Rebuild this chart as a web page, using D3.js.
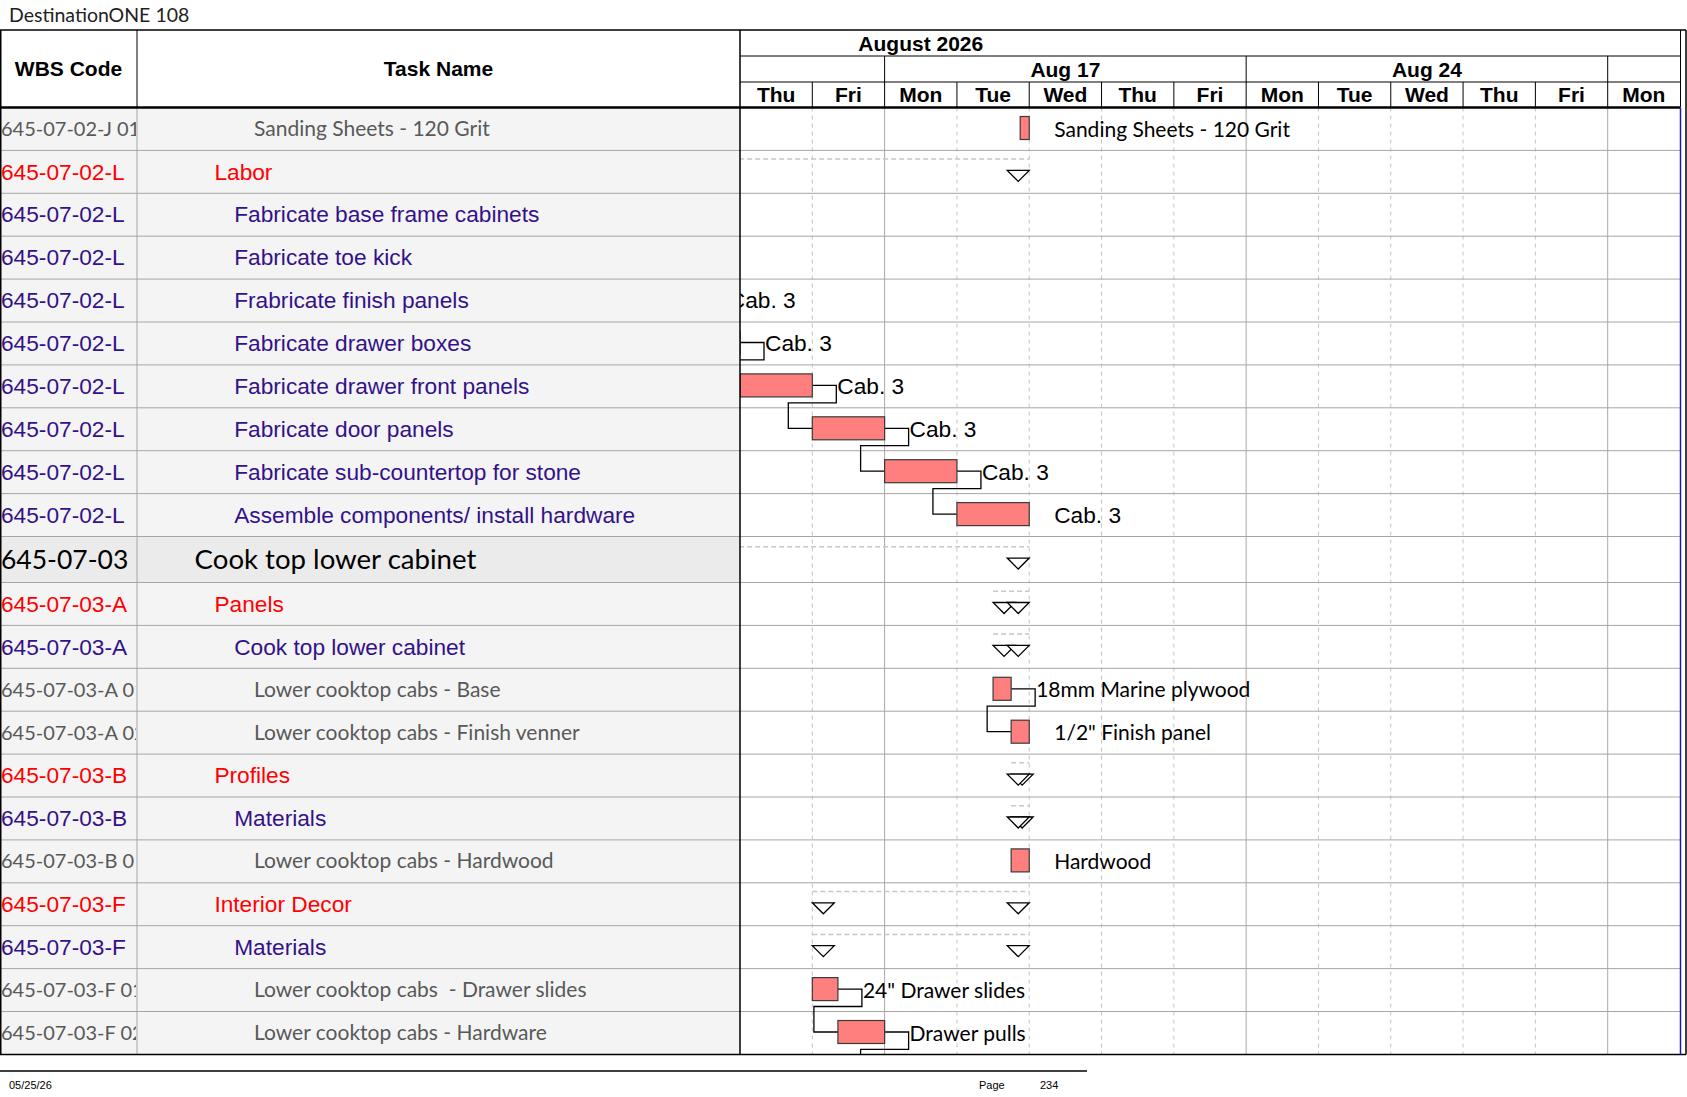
<!DOCTYPE html>
<html>
<head>
<meta charset="utf-8">
<script src="https://d3js.org/d3.v7.min.js"></script>
<style>
  body { margin: 0; background: #fff; }
  svg { display: block; }
  .arial { font-family: "Liberation Sans", Arial, sans-serif; }
  .calibri { font-family: Lato, "Open Sans", sans-serif; }
  .hdr { font: bold 21px "Liberation Sans", Arial, sans-serif; fill: #000; }
  .foot { font: 11px "Liberation Sans Narrow", "Liberation Sans", sans-serif; fill: #000; }
  text { white-space: pre; }
</style>
</head>
<body>
<script>
// one entry per visible row of the task table
var wbsCodes = ["645-07-02-J 01", "645-07-02-L", "645-07-02-L", "645-07-02-L", "645-07-02-L",
  "645-07-02-L", "645-07-02-L", "645-07-02-L", "645-07-02-L", "645-07-02-L", "645-07-03",
  "645-07-03-A", "645-07-03-A", "645-07-03-A 01", "645-07-03-A 02", "645-07-03-B", "645-07-03-B",
  "645-07-03-B 01", "645-07-03-F", "645-07-03-F", "645-07-03-F 01", "645-07-03-F 02"];
var taskNames = ["Sanding Sheets - 120 Grit", "Labor", "Fabricate base frame cabinets", "Fabricate toe kick",
  "Frabricate finish panels", "Fabricate drawer boxes", "Fabricate drawer front panels", "Fabricate door panels",
  "Fabricate sub-countertop for stone", "Assemble components/ install hardware", "Cook top lower cabinet",
  "Panels", "Cook top lower cabinet", "Lower cooktop cabs - Base", "Lower cooktop cabs - Finish venner",
  "Profiles", "Materials", "Lower cooktop cabs - Hardwood", "Interior Decor", "Materials",
  "Lower cooktop cabs  - Drawer slides", "Lower cooktop cabs - Hardware"];
var outlineLevels = [5, 3, 4, 4, 4, 4, 4, 4, 4, 4, 2, 3, 4, 5, 5, 3, 4, 5, 3, 4, 5, 5];
var starts = ["2026-08-18 21:00", "2026-08-10 00:00", null, null, "2026-08-11 12:00", "2026-08-12 12:00",
  "2026-08-13 00:00", "2026-08-14 00:00", "2026-08-17 00:00", "2026-08-18 00:00", "2026-08-10 00:00",
  "2026-08-18 12:00", "2026-08-18 12:00", "2026-08-18 12:00", "2026-08-18 18:00", "2026-08-18 18:00",
  "2026-08-18 18:00", "2026-08-18 18:00", "2026-08-14 00:00", "2026-08-14 00:00", "2026-08-14 00:00",
  "2026-08-14 08:30"];
var finishes = ["2026-08-19 00:00", "2026-08-19 00:00", null, null, "2026-08-12 12:00", "2026-08-13 00:00",
  "2026-08-14 00:00", "2026-08-17 00:00", "2026-08-18 00:00", "2026-08-19 00:00", "2026-08-19 00:00",
  "2026-08-19 00:00", "2026-08-19 00:00", "2026-08-18 18:00", "2026-08-19 00:00", "2026-08-19 00:00",
  "2026-08-19 00:00", "2026-08-19 00:00", "2026-08-19 00:00", "2026-08-19 00:00", "2026-08-14 08:30",
  "2026-08-17 00:00"];
var barLabels = ["Sanding Sheets - 120 Grit", "", "", "", "Cab. 3", "Cab. 3", "Cab. 3", "Cab. 3", "Cab. 3", "Cab. 3",
  "", "", "", "18mm Marine plywood", "1/2\" Finish panel", "", "", "Hardwood", "", "",
  "24\" Drawer slides", "Drawer pulls"];
// finish-to-start links [predecessor row, successor row]; row 22 is on the next page
var links = [[4, 5], [5, 6], [6, 7], [7, 8], [8, 9], [13, 14], [20, 21], [21, 22]];
var nextPageStart = "2026-08-17 00:00";

var titleText = "DestinationONE 108";
var footerDate = "05/25/26";
var pageNumber = "234";
var firstShownDay = "2026-08-13";
var lastShownDay = "2026-08-31";
// working days only, weekends are collapsed out of the timescale
var monthStart = new Date(2026, 7, 1), monthEnd = new Date(2026, 8, 1);

var W = 1687, H = 1097;
var tableTop = 30, tierY = [30, 56, 82], headerBottom = 107.5;
var colWbs = 137, chartLeft = 740, chartRight = 1680, outerRight = 1686;
var rowH = 42.9, bigRowH = 46;

var levelColor = { 2: "#000", 3: "#ff0000", 4: "#33118a", 5: "#595959" };
var levelFont = { 2: "calibri", 3: "arial", 4: "arial", 5: "calibri" };
var levelSize = { 2: 27.6, 3: 22.7, 4: 22.7, 5: 21 };
var wbsSize = { 2: 26.5, 3: 22.7, 4: 22.7, 5: 20 };

var parse = d3.timeParse("%Y-%m-%d %H:%M");
var workDays = d3.timeDay.range(monthStart, monthEnd).filter(function (d) { return d.getDay() % 6 != 0; });
var workNums = workDays.map(Number);

// working-day index (with fraction of day) of a date string
function wd(s) {
  var t = parse(s), day = d3.timeDay.floor(t);
  var i = d3.bisectLeft(workNums, +day);
  if (workNums[i] !== +day) return i;
  return i + (t - day) / 864e5;
}

var x = d3.scaleLinear()
  .domain([wd(firstShownDay + " 00:00"), wd(lastShownDay + " 00:00") + 1])
  .range([chartLeft, chartRight]);

var n = taskNames.length;
var heights = outlineLevels.map(function (l) { return l == 2 ? bigRowH : rowH; });
var tops = [];
heights.reduce(function (y, h, i) { tops[i] = y; return y + h; }, headerBottom);
var bodyBottom = tops[n - 1] + heights[n - 1];
function isSummary(i) { return i < n - 1 && outlineLevels[i + 1] > outlineLevels[i]; }

var svg = d3.select("body").append("svg").attr("width", W).attr("height", H);
svg.append("rect").attr("width", W).attr("height", H).attr("fill", "#fff");

var defs = svg.append("defs");
defs.append("clipPath").attr("id", "clipChart").append("rect")
  .attr("x", chartLeft).attr("y", headerBottom).attr("width", chartRight - chartLeft).attr("height", bodyBottom - headerBottom);
defs.append("clipPath").attr("id", "clipWbs").append("rect")
  .attr("x", 0).attr("y", headerBottom).attr("width", colWbs - 1).attr("height", bodyBottom - headerBottom);

// title
svg.append("text").attr("x", 9).attr("y", 22)
  .style("font", "19.5px Lato, sans-serif").attr("fill", "#222").text(titleText);

// row backgrounds of the table part
svg.append("g").selectAll("rect").data(taskNames).enter().append("rect")
  .attr("x", 0).attr("y", function (d, i) { return tops[i]; })
  .attr("width", chartLeft).attr("height", function (d, i) { return heights[i]; })
  .attr("fill", function (d, i) { return outlineLevels[i] == 2 ? "#ebebeb" : "#f4f4f4"; });

// vertical day grid in the chart body
var dayIdx = d3.range(x.domain()[0], x.domain()[1]);
svg.append("g").selectAll("line").data(dayIdx.slice(1)).enter().append("line")
  .attr("x1", function (d) { return x(d); }).attr("x2", function (d) { return x(d); })
  .attr("y1", headerBottom).attr("y2", bodyBottom)
  .attr("stroke", function (d) { return workDays[d].getDay() == 1 ? "#a8a8a8" : "#c4c4c4"; })
  .attr("stroke-dasharray", function (d) { return workDays[d].getDay() == 1 ? null : "4,4"; });

// row separators
svg.append("g").selectAll("line").data(tops.slice(1)).enter().append("line")
  .attr("x1", 0).attr("x2", chartRight).attr("y1", function (d) { return d; }).attr("y2", function (d) { return d; })
  .attr("stroke", "#a6a6a6");
svg.append("line").attr("x1", colWbs).attr("x2", colWbs).attr("y1", headerBottom).attr("y2", bodyBottom).attr("stroke", "#a6a6a6");

// table texts
svg.append("g").attr("clip-path", "url(#clipWbs)").selectAll("text").data(wbsCodes).enter().append("text")
  .attr("class", function (d, i) { return levelFont[outlineLevels[i]]; })
  .attr("x", 1).attr("y", function (d, i) { return tops[i] + heights[i] / 2 + levelSize[outlineLevels[i]] * 0.34; })
  .style("font-size", function (d, i) { return wbsSize[outlineLevels[i]] + "px"; })
  .attr("fill", function (d, i) { return levelColor[outlineLevels[i]]; })
  .text(function (d) { return d; });
svg.append("g").selectAll("text").data(taskNames).enter().append("text")
  .attr("class", function (d, i) { return levelFont[outlineLevels[i]]; })
  .attr("x", function (d, i) { return 155 + outlineLevels[i] * 19.8; })
  .attr("y", function (d, i) { return tops[i] + heights[i] / 2 + levelSize[outlineLevels[i]] * 0.34; })
  .style("font-size", function (d, i) { return levelSize[outlineLevels[i]] + "px"; })
  .attr("fill", function (d, i) { return levelColor[outlineLevels[i]]; })
  .text(function (d) { return d; });

// gantt marks
var chart = svg.append("g").attr("clip-path", "url(#clipChart)");
var rows = d3.range(n);
var sumRows = rows.filter(function (i) { return isSummary(i) && starts[i]; });
var taskRows = rows.filter(function (i) { return !isSummary(i) && starts[i]; });

function tri(xl, ty) { return [[xl, ty], [xl + 22, ty], [xl + 11, ty + 11]].join(" "); }

sumRows.forEach(function (i) {
  var off = (heights[i] - rowH) / 2, xs = x(wd(starts[i])), xf = x(wd(finishes[i]));
  chart.append("line").attr("x1", xs).attr("x2", xf)
    .attr("y1", tops[i] + 8.7 + off).attr("y2", tops[i] + 8.7 + off)
    .attr("stroke", "#c8c8c8").attr("stroke-width", 1.5).attr("stroke-dasharray", "5,3");
  chart.append("polygon").attr("points", tri(xs, tops[i] + 20 + off))
    .attr("fill", "#fff").attr("stroke", "#000").attr("stroke-width", 1.3);
  chart.append("polygon").attr("points", tri(xf - 22, tops[i] + 20 + off))
    .attr("fill", "#fff").attr("stroke", "#000").attr("stroke-width", 1.3);
});

// link lines (drawn under the bars)
chart.append("g").selectAll("path").data(links).enter().append("path")
  .attr("fill", "none").attr("stroke", "#000").attr("stroke-width", 1.3)
  .attr("d", function (l) {
    var a = l[0], b = l[1];
    var xe = x(wd(finishes[a])), ym = tops[a] + 20.5;
    var bTop = b < n ? tops[b] : bodyBottom;
    var xs = x(wd(b < n ? starts[b] : nextPageStart));
    return "M" + xe + "," + ym + "H" + (xe + 24) + "V" + (tops[a] + heights[a] - 5) +
      "H" + (xs - 24) + "V" + (bTop + 20.5) + "H" + xs;
  });

chart.append("g").selectAll("rect").data(taskRows).enter().append("rect")
  .attr("x", function (i) { return x(wd(starts[i])); })
  .attr("width", function (i) { return x(wd(finishes[i])) - x(wd(starts[i])); })
  .attr("y", function (i) { return tops[i] + 9; }).attr("height", 23)
  .attr("fill", "#ff7f7f").attr("stroke", "#3a3a3a").attr("stroke-width", 1.2);

chart.append("g").selectAll("text").data(taskRows.filter(function (i) { return barLabels[i]; })).enter().append("text")
  .attr("class", function (i) { return levelFont[outlineLevels[i]]; })
  .style("font-size", function (i) { return levelSize[outlineLevels[i]] + "px"; })
  .attr("x", function (i) { return x(wd(finishes[i])) + 25; })
  .attr("y", function (i) { return tops[i] + 29; })
  .attr("fill", "#000")
  .text(function (i) { return barLabels[i]; });

// timescale header
var tiers = svg.append("g");
var fmtDay = d3.timeFormat("%Y-%m-%d 00:00");
tiers.append("text").attr("class", "hdr").attr("text-anchor", "middle")
  .attr("x", x(workDays.length / 2)).attr("y", tierY[0] + 20.5)
  .text(d3.timeFormat("%B %Y")(monthStart));

var mondays = d3.timeMonday.range(d3.timeMonday.floor(workDays[dayIdx[0]]), monthEnd);
// week labels sit in the middle of their 5 working days; only those on this page are written
var weekLabels = mondays.filter(function (d) {
  var c = x(wd(fmtDay(d)) + 2.5);
  return c > chartLeft && c < chartRight;
});
tiers.selectAll(".wk").data(weekLabels).enter().append("text").attr("class", "hdr wk")
  .attr("text-anchor", "middle")
  .attr("x", function (d) { return x(wd(fmtDay(d)) + 2.5); }).attr("y", tierY[1] + 20.5)
  .text(d3.timeFormat("%b %-d"));
tiers.selectAll(".wkl").data(mondays.filter(function (d) { return x(wd(fmtDay(d))) > chartLeft; }))
  .enter().append("line").attr("class", "wkl")
  .attr("x1", function (d) { return x(wd(fmtDay(d))); }).attr("x2", function (d) { return x(wd(fmtDay(d))); })
  .attr("y1", tierY[1]).attr("y2", tierY[2]).attr("stroke", "#000");

tiers.selectAll(".dy").data(dayIdx).enter().append("text").attr("class", "hdr dy")
  .attr("text-anchor", "middle")
  .attr("x", function (d) { return x(d + 0.5); }).attr("y", tierY[2] + 20)
  .text(function (d) { return d3.timeFormat("%a")(workDays[d]); });
tiers.selectAll(".dyl").data(dayIdx.slice(1)).enter().append("line").attr("class", "dyl")
  .attr("x1", function (d) { return x(d); }).attr("x2", function (d) { return x(d); })
  .attr("y1", tierY[2]).attr("y2", headerBottom).attr("stroke", "#000");

svg.append("text").attr("class", "hdr").attr("text-anchor", "middle")
  .attr("x", colWbs / 2).attr("y", 76).text("WBS Code");
svg.append("text").attr("class", "hdr").attr("text-anchor", "middle")
  .attr("x", (colWbs + chartLeft) / 2).attr("y", 76).text("Task Name");

// borders
var border = svg.append("g").attr("stroke", "#000").attr("fill", "none");
border.append("line").attr("x1", 0).attr("x2", outerRight).attr("y1", tableTop).attr("y2", tableTop).attr("stroke-width", 1.5);
border.append("line").attr("x1", chartLeft).attr("x2", chartRight).attr("y1", tierY[1]).attr("y2", tierY[1]);
border.append("line").attr("x1", chartLeft).attr("x2", chartRight).attr("y1", tierY[2]).attr("y2", tierY[2]);
border.append("line").attr("x1", 0).attr("x2", chartRight).attr("y1", headerBottom).attr("y2", headerBottom).attr("stroke-width", 2.5);
border.append("line").attr("x1", 0).attr("x2", outerRight).attr("y1", bodyBottom).attr("y2", bodyBottom).attr("stroke-width", 1.5);
border.append("line").attr("x1", 0.75).attr("x2", 0.75).attr("y1", tableTop).attr("y2", bodyBottom).attr("stroke-width", 1.5);
border.append("line").attr("x1", colWbs).attr("x2", colWbs).attr("y1", tableTop).attr("y2", headerBottom);
border.append("line").attr("x1", chartLeft).attr("x2", chartLeft).attr("y1", tableTop).attr("y2", bodyBottom).attr("stroke-width", 1.5);
border.append("line").attr("x1", chartRight + 0.5).attr("x2", chartRight + 0.5).attr("y1", tableTop).attr("y2", headerBottom);
border.append("line").attr("x1", chartRight + 0.5).attr("x2", chartRight + 0.5).attr("y1", headerBottom).attr("y2", bodyBottom)
  .attr("stroke", "#1c1ca0").attr("stroke-width", 1.5);
border.append("line").attr("x1", outerRight).attr("x2", outerRight).attr("y1", tableTop).attr("y2", bodyBottom).attr("stroke-width", 1.5);

// page footer
svg.append("line").attr("x1", 0).attr("x2", 1087).attr("y1", 1071).attr("y2", 1071).attr("stroke", "#000").attr("stroke-width", 1.5);
svg.append("text").attr("class", "foot").attr("x", 9).attr("y", 1089).text(footerDate);
svg.append("text").attr("class", "foot").attr("x", 979).attr("y", 1089).text("Page");
svg.append("text").attr("class", "foot").attr("x", 1040).attr("y", 1089).text(pageNumber);
</script>
</body>
</html>
